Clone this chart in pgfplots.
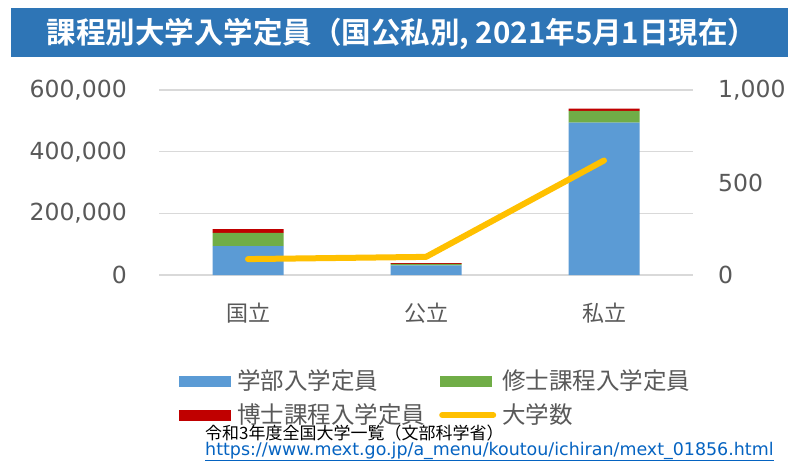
\documentclass[border=0pt]{standalone}
\usepackage{fontspec}
\setmainfont{DejaVu Sans}
\newfontfamily\cjk{Noto Sans CJK JP}[BoldFont={Noto Sans CJK JP Bold}]
\usepackage{pgfplots}
\pgfplotsset{compat=1.18}
\definecolor{cblue}{HTML}{5B9BD5}
\definecolor{cgreen}{HTML}{70AD47}
\definecolor{cred}{HTML}{C00000}
\definecolor{cyellow}{HTML}{FFC000}
\definecolor{cbanner}{HTML}{2E75B6}
\definecolor{cgray}{HTML}{595959}
\definecolor{cgrid}{HTML}{D9D9D9}
\definecolor{clink}{HTML}{0563C1}
\begin{document}
\begin{tikzpicture}[x=1pt,y=1pt]
\path[use as bounding box, fill=white] (0,0) rectangle (800,475);
\fill[cbanner] (11,417.7) rectangle (788,466.7);
\node[text=white, font=\cjk\bfseries\fontsize{29.5}{29.5}\selectfont, inner sep=0pt] at (402,441.3) {課程別大学入学定員（国公私別,\ 2021年5月1日現在）};

\begin{axis}[at={(159pt,200pt)}, anchor=south west, scale only axis,
  width=534pt, height=185pt,
  ybar stacked, bar width=71pt,
  xmin=-0.5, xmax=2.5, ymin=0, ymax=600000,
  xtick={0,1,2}, xticklabels={国立,公立,私立},
  ytick={0,200000,400000,600000},
  scaled y ticks=false,
  axis line style={draw=none}, major tick length=0pt,
  ymajorgrids, grid style={line width=1.3pt, color=cgrid},
  /pgf/number format/fixed,
  /pgf/number format/precision=0,
  /pgf/number format/1000 sep={,},
  /pgf/number format/assume math mode=true,
  yticklabel style={font=\fontsize{23.5}{23.5}\selectfont, text=cgray, anchor=east, inner sep=0pt, xshift=-32pt},
  xticklabel style={font=\cjk\fontsize{22}{22}\selectfont, text=cgray, anchor=center, inner sep=0pt, yshift=-38pt},
  legend columns=2,
  legend cell align=left,
  legend style={at={(0.0375,-0.51)}, anchor=north west, draw=none, fill=none, inner sep=0pt,
    font=\cjk\fontsize{23.5}{23.5}\selectfont, text=cgray,
    column sep=6pt, row sep=11pt,
    /tikz/every even column/.append style={column sep=14pt},
    nodes={inner sep=0pt, text height=20pt, text depth=3pt}},
]
\addplot[fill=cblue, draw=none, legend image code/.code={\fill[cblue] (0pt,-5.5pt) rectangle (52pt,5.5pt);}]
  coordinates {(0,94000) (1,31000) (2,494000)};
\addlegendentry{学部入学定員}
\addplot[fill=cgreen, draw=none, legend image code/.code={\fill[cgreen] (0pt,-5.5pt) rectangle (52pt,5.5pt);}]
  coordinates {(0,43000) (1,5500) (2,38000)};
\addlegendentry{修士課程入学定員}
\addplot[fill=cred, draw=none, legend image code/.code={\fill[cred] (0pt,-5.5pt) rectangle (52pt,5.5pt);}]
  coordinates {(0,12000) (1,1700) (2,7500)};
\addlegendentry{博士課程入学定員}
\addlegendimage{legend image code/.code={\draw[line width=6pt, cyellow, line cap=round] (2pt,0pt) -- (53pt,0pt);}}
\addlegendentry{大学数}
\end{axis}

\begin{axis}[at={(159pt,200pt)}, anchor=south west, scale only axis,
  width=534pt, height=185pt,
  xmin=-0.5, xmax=2.5, ymin=0, ymax=1000,
  axis y line*=right, axis x line=none,
  axis line style={draw=none}, major tick length=0pt,
  ytick={0,500,1000},
  /pgf/number format/fixed,
  /pgf/number format/precision=0,
  /pgf/number format/1000 sep={,},
  /pgf/number format/assume math mode=true,
  yticklabel style={font=\fontsize{23.5}{23.5}\selectfont, text=cgray, anchor=west, inner sep=0pt, xshift=25pt},
]
\addplot[line width=6pt, color=cyellow, line cap=round, line join=round, mark=none]
  coordinates {(0,86) (1,98) (2,619)};
\end{axis}

\node[anchor=west, inner sep=0pt, font=\cjk\fontsize{17}{17}\selectfont, text=black] at (205,42) {令和3年度全国大学一覧（文部科学省）};
\node[anchor=west, inner sep=0pt, font=\fontsize{17.45}{17.45}\selectfont, text=clink] at (205,23.5) {\underline{https://www.mext.go.jp/a\_menu/koutou/ichiran/mext\_01856.html}};
\end{tikzpicture}
\end{document}
